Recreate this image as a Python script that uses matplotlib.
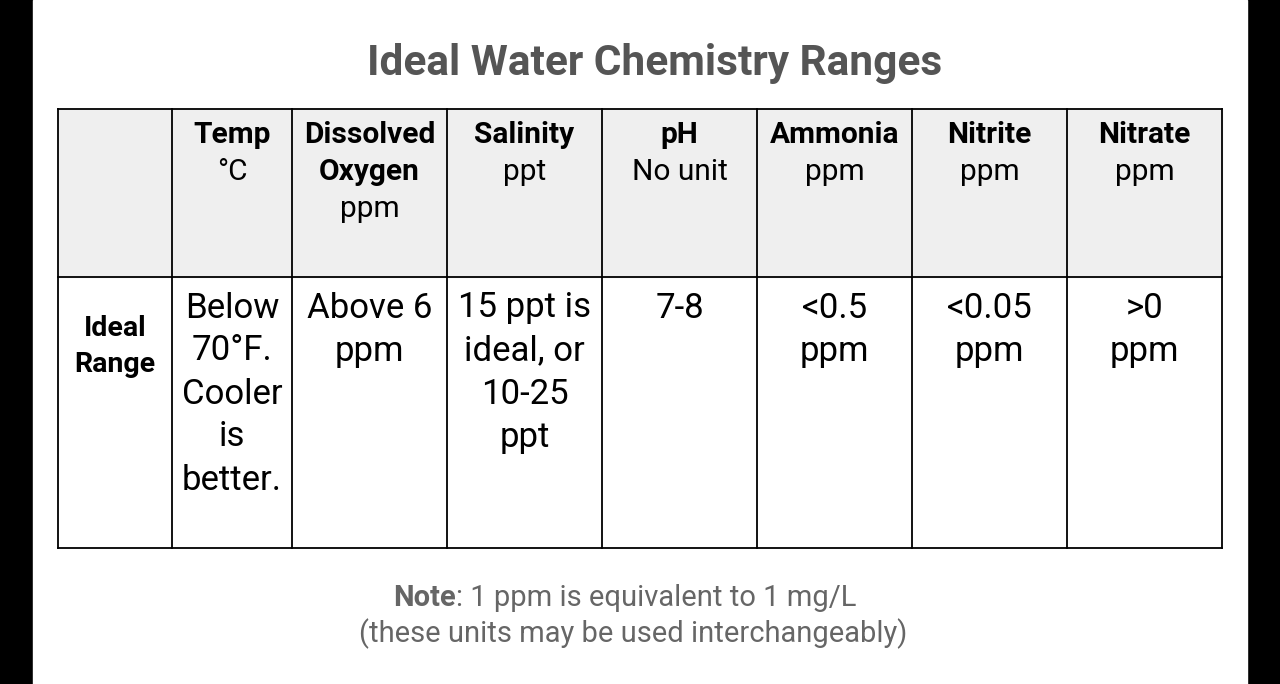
import matplotlib
matplotlib.use("Agg")
import matplotlib.pyplot as plt

title = "Ideal Water Chemistry Ranges"
headers_bold = [[""], ["Temp"], ["Dissolved", "Oxygen"], ["Salinity"], ["pH"],
                ["Ammonia"], ["Nitrite"], ["Nitrate"]]
headers_unit = [[], ["°C"], ["ppm"], ["ppt"], ["No unit"], ["ppm"], ["ppm"], ["ppm"]]
row_label = ["Ideal", "Range"]
values = [["Below", "70°F.", "Cooler", "is", "better."],
          ["Above 6", "ppm"],
          ["15 ppt is", "ideal, or", "10-25", "ppt"],
          ["7-8"],
          ["<0.5", "ppm"],
          ["<0.05", "ppm"],
          [">0", "ppm"]]
col_edges = [58, 172, 292, 447, 602, 757, 912, 1067, 1222]
row_edges = [109, 277, 548]

fig = plt.figure(figsize=(12.8, 6.84), dpi=100)
fig.patch.set_facecolor("black")
ax = fig.add_axes([0, 0, 1, 1])
ax.set_xlim(0, 1280)
ax.set_ylim(684, 0)
ax.axis("off")
ax.add_patch(plt.Rectangle((33, 0), 1214, 684, color="white", zorder=0))
ax.add_patch(plt.Rectangle((col_edges[0], row_edges[0]), col_edges[-1] - col_edges[0],
                           row_edges[1] - row_edges[0], color="#efefef", zorder=1))
for x in col_edges:
    ax.plot([x, x], [row_edges[0], row_edges[-1]], color="black", lw=1.3, zorder=3)
for y in row_edges:
    ax.plot([col_edges[0], col_edges[-1]], [y, y], color="black", lw=1.3, zorder=3)

ax.text(655, 64, title, ha="center", va="center", fontsize=30.5, fontweight="bold",
        family="Roboto", color="#555555")

for i in range(8):
    cx = (col_edges[i] + col_edges[i + 1]) / 2
    y = 135
    for s in headers_bold[i]:
        ax.text(cx, y, s, ha="center", va="center", fontsize=21.5, fontweight="bold",
                family="Roboto", color="black")
        y += 37
    for s in headers_unit[i]:
        ax.text(cx, y, s, ha="center", va="center", fontsize=21.5,
                family="Roboto", color="black")
        y += 37

cx = (col_edges[0] + col_edges[1]) / 2
for k, s in enumerate(row_label):
    ax.text(cx, 328 + 36 * k, s, ha="center", va="center", fontsize=20.5,
            fontweight="bold", family="Roboto", color="black")
for i, lines in enumerate(values):
    cx = (col_edges[i + 1] + col_edges[i + 2]) / 2
    for k, s in enumerate(lines):
        ax.text(cx, 308 + 43 * k, s, ha="center", va="center", fontsize=25,
                family="Roboto", color="black")

# note line: bold word + regular rest, placed side by side
t1 = ax.text(393, 598, "Note", ha="left", va="center", fontsize=21,
             fontweight="bold", family="Roboto", color="#666666")
fig.canvas.draw()
bb = t1.get_window_extent()
ax.annotate(": 1 ppm is equivalent to 1 mg/L", xy=(1, 0.5), xycoords=t1,
            ha="left", va="center", fontsize=21, family="Roboto", color="#666666")
ax.text(633, 634, "(these units may be used interchangeably)", ha="center", va="center",
        fontsize=21, family="Roboto", color="#666666")

fig.savefig("out.png", dpi=100, facecolor=fig.get_facecolor())
